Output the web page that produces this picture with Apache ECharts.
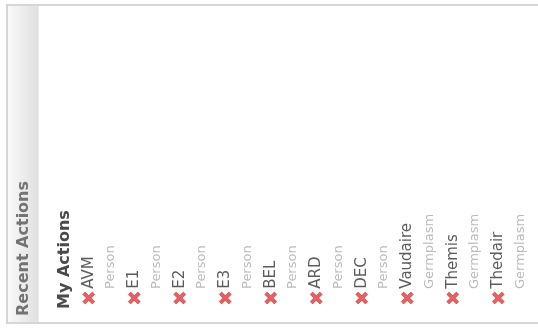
<!DOCTYPE html>
<html><head><meta charset="utf-8">
<script src="https://cdn.jsdelivr.net/npm/echarts@6/dist/echarts.min.js"></script>
<style>html,body{margin:0;padding:0;background:#fff}#c{width:538px;height:329px}</style>
</head><body><div id="c"></div>
<script>
const panelTitle = 'Recent Actions';
const sectionTitle = 'My Actions';
const names = ['AVM','E1','E2','E3','BEL','ARD','DEC','Vaudaire','Themis','Thedair'];
const types = ['Person','Person','Person','Person','Person','Person','Person','Germplasm','Germplasm','Germplasm'];
const baseline = [0,0,0,0,0,0,0,0,0,0];

const FONT = 'DejaVu Sans';
const chart = echarts.init(document.getElementById('c'), null, {renderer:'canvas'});
const crossPath = 'path://M2,0 L5,3 L8,0 L10,2 L7,5 L10,8 L8,10 L5,7 L2,10 L0,8 L3,5 L0,2 Z';
chart.setOption({
  animation:false,
  backgroundColor:'#fff',
  grid:{left:66,right:17,top:40,bottom:31},
  xAxis:{type:'category',data:names,show:false},
  yAxis:{type:'value',min:0,max:1,show:false},
  graphic:[
    {type:'rect',shape:{x:7,y:5,width:545,height:318},style:{fill:'#fff',stroke:'#d6d6d6',lineWidth:2},z:-10},
    {type:'rect',shape:{x:8,y:6,width:30,height:316},
     style:{fill:new echarts.graphic.LinearGradient(0,0,1,0,[{offset:0,color:'#f9f9f9'},{offset:1,color:'#e0e0e0'}])},z:-9},
    {type:'line',shape:{x1:38.5,y1:6,x2:38.5,y2:322},style:{stroke:'#ececec',lineWidth:1},z:-9},
    {type:'text',x:24,y:316,rotation:Math.PI/2,
     style:{text:panelTitle,font:'bold 16px "'+FONT+'"',fill:'#737373',textAlign:'left',textVerticalAlign:'middle'}},
    {type:'text',x:65,y:309,rotation:Math.PI/2,
     style:{text:sectionTitle,font:'bold 16px "'+FONT+'"',fill:'#4a4a4a',textAlign:'left',textVerticalAlign:'middle'}}
  ],
  series:[
    {type:'scatter',data:baseline,symbol:crossPath,symbolSize:12,
     itemStyle:{color:'#e03a3a',borderColor:'#b52424',borderWidth:0.6},
     label:{show:true,position:'top',distance:3,rotate:90,align:'left',verticalAlign:'middle',
       formatter:p=>names[p.dataIndex],fontFamily:FONT,fontSize:15,color:'#333'}},
    {type:'scatter',data:baseline,symbol:'circle',symbolSize:12,
     itemStyle:{color:'rgba(0,0,0,0)'},
     label:{show:true,position:'top',distance:3,rotate:90,align:'left',verticalAlign:'middle',offset:[0,22],
       formatter:p=>types[p.dataIndex],fontFamily:FONT,fontSize:13,color:'#aaa'}}
  ]
});
</script></body></html>
